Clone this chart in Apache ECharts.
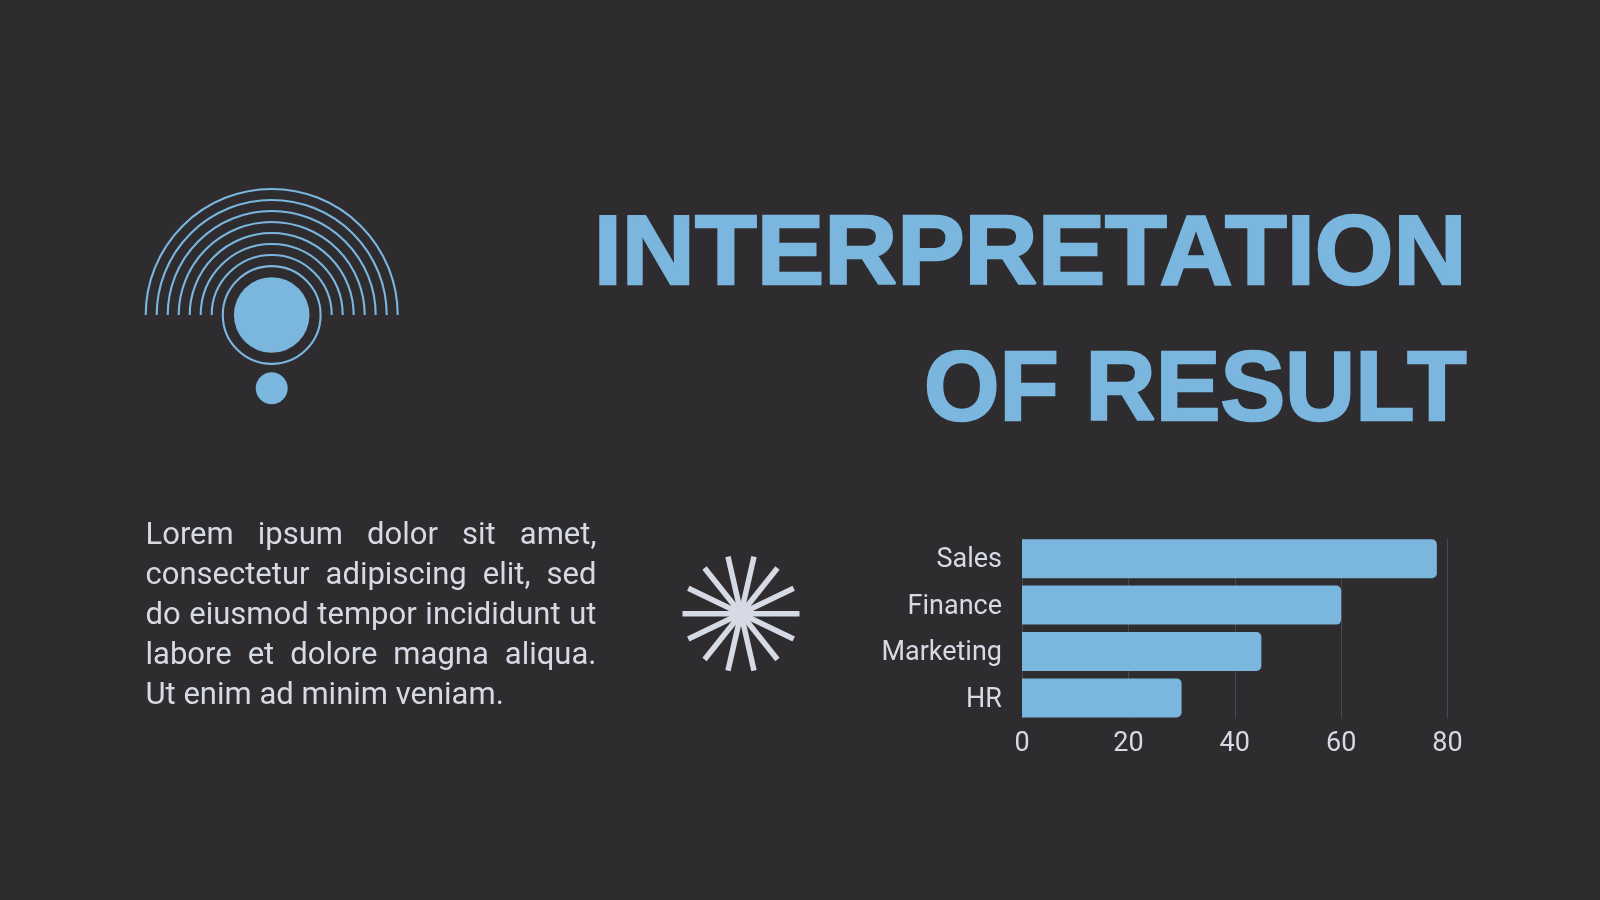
<!DOCTYPE html>
<html><head><meta charset="utf-8">
<style>html,body{margin:0;padding:0;background:#2e2c2f}#c{width:1600px;height:900px}</style>
<script src="https://cdn.jsdelivr.net/npm/echarts@6/dist/echarts.min.js"></script>
</head><body><div id="c"></div>
<script>
const categories = ['Sales','Finance','Marketing','HR'];
const values = [78,60,45,30];
const xTicks = [0,20,40,60,80];
const titleLines = ['INTERPRETATION','OF RESULT'];
const bodyLines = ['Lorem ipsum dolor sit amet,','consectetur adipiscing elit, sed','do eiusmod tempor incididunt ut','labore et dolore magna aliqua.','Ut enim ad minim veniam.'];
const arcRadii = [60,71,82,93,104,115,126];
const BLUE='#7ab6de', LIGHT='#d6dae5', BG='#2e2c2f';
const chart = echarts.init(document.getElementById('c'),null,{renderer:'canvas'});
const g = [];
// title: each line is stretched to the reference's measure
const titleScale=[1.032,0.99], titleTop=[207.5,344];
titleLines.forEach((t,i)=>g.push({type:'text',z:5,x:1466.5,y:titleTop[i],scaleX:titleScale[i],style:{text:t,x:0,y:0,align:'right',verticalAlign:'alphabetic',fill:BLUE,stroke:BLUE,lineWidth:2.4,lineJoin:'round',font:'bold 98px "Liberation Sans"'}}));
// body, justified word by word
const ctx=document.createElement('canvas').getContext('2d');
const bodyFont='31px Roboto';ctx.font=bodyFont;
const L=145.5,R=596.5,T0=520.5,LH=40;
bodyLines.forEach((ln,i)=>{
  const words=ln.split(' ');
  const w=words.map(x=>ctx.measureText(x).width);
  const sum=w.reduce((a,b)=>a+b,0);
  const gap=i<bodyLines.length-1?(R-L-sum)/(words.length-1):ctx.measureText(' ').width;
  let x=L;
  words.forEach((wd,j)=>{g.push({type:'text',z:5,style:{text:wd,x,y:T0+LH*i,align:'left',verticalAlign:'alphabetic',fill:LIGHT,font:bodyFont}});x+=w[j]+gap;});
});
// icon
const cx=271.7,cy=315;
arcRadii.forEach(r=>g.push({type:'arc',z:5,shape:{cx,cy,r,startAngle:Math.PI,endAngle:2*Math.PI},style:{stroke:BLUE,fill:null,lineWidth:2.1}}));
g.push({type:'circle',z:5,shape:{cx,cy,r:48.9},style:{stroke:BLUE,fill:null,lineWidth:2.1}});
g.push({type:'circle',z:5,shape:{cx,cy,r:37.8},style:{fill:BLUE}});
g.push({type:'circle',z:5,shape:{cx,cy:388.3,r:16},style:{fill:BLUE}});
// star
const sx=741,sy=613.7,sr=58.5;
for(let k=0;k<7;k++){const a=k*Math.PI/7,c=Math.cos(a)*sr,s=Math.sin(a)*sr;
 g.push({type:'line',z:5,shape:{x1:sx-c,y1:sy-s,x2:sx+c,y2:sy+s},style:{stroke:LIGHT,lineWidth:5.5}});}
g.push({type:'circle',z:5,shape:{cx:sx,cy:sy,r:11.5},style:{fill:LIGHT}});
chart.setOption({
 backgroundColor:BG,animation:false,
 graphic:g,
 grid:[
  {left:1022,width:425.5,top:538.5,height:180,containLabel:false},
  {left:1022,width:425.5,top:535.5,height:185.6,containLabel:false}
 ],
 xAxis:[
  {gridIndex:0,type:'value',min:0,max:80,interval:20,axisLine:{show:false},axisTick:{show:false},axisLabel:{show:false},splitLine:{show:true,lineStyle:{color:'#4a484c',width:1}}},
  {gridIndex:1,type:'value',min:0,max:80,interval:20,axisLine:{show:false},axisTick:{show:false},splitLine:{show:false},
   axisLabel:{color:LIGHT,fontFamily:'Roboto',fontSize:27,margin:10,customValues:xTicks}}
 ],
 yAxis:[
  {gridIndex:0,type:'category',inverse:true,data:categories,axisLine:{show:false},axisTick:{show:false},axisLabel:{show:false},splitLine:{show:false}},
  {gridIndex:1,type:'category',inverse:true,data:categories,axisLine:{show:false},axisTick:{show:false},splitLine:{show:false},
   axisLabel:{margin:20,formatter:v=>'{a|'+v+'}',rich:{a:{color:LIGHT,fontFamily:'Roboto',fontSize:27,padding:[4,0,0,0]}}}}
 ],
 series:[{type:'bar',xAxisIndex:1,yAxisIndex:1,data:values,barWidth:39,itemStyle:{color:BLUE,borderRadius:[0,5,5,0]},silent:true}]
});
</script></body></html>
